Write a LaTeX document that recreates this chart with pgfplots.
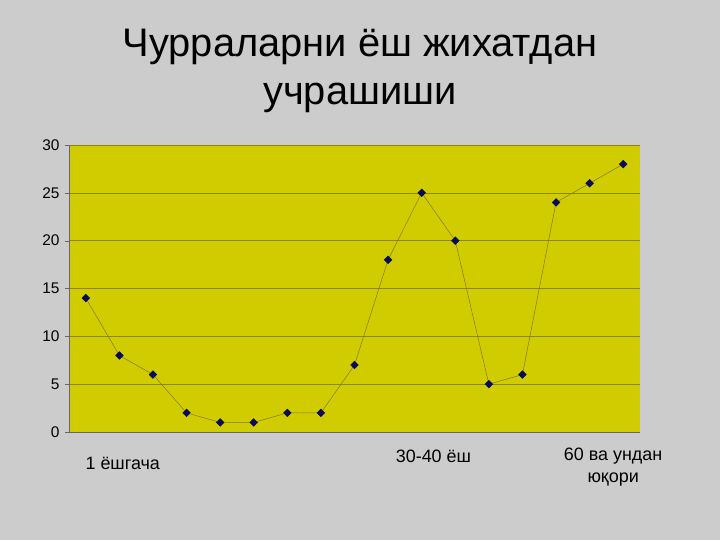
\documentclass[border=0pt]{standalone}
\usepackage{pgfplots}
\pgfplotsset{compat=1.18}
\usepackage{fontspec}
\setmainfont{Liberation Sans}
\definecolor{bg}{RGB}{204,204,204}
\definecolor{plotbg}{RGB}{208,204,0}
\definecolor{gridc}{RGB}{140,136,0}
\definecolor{linec}{RGB}{130,120,30}
\definecolor{markc}{RGB}{10,10,90}
\begin{document}
\begin{tikzpicture}[x=1bp,y=1bp]
\fill[bg] (0,0) rectangle (720,540);
\node[align=center,font=\fontsize{40}{48}\selectfont] at (360,469) {Чурраларни ёш жихатдан\\учрашиши};
\begin{axis}[
  at={(69bp,108bp)}, anchor=south west,
  scale only axis, width=571bp, height=287bp,
  xmin=0.5, xmax=17.5, ymin=0, ymax=30,
  axis x line=bottom, axis y line=left,
  axis line style={-, draw=gray!80!black},
  axis background/.style={fill=plotbg},
  xtick=\empty,
  ytick={0,5,...,30},
  tick align=outside, major tick length=4bp,
  y tick style={draw=gray!80!black},
  ymajorgrids, grid style={gridc, line width=0.6pt},
  tick label style={font=\fontsize{15.5}{18}\selectfont},
  /pgf/number format/assume math mode=true,
  yticklabel style={xshift=-2bp},
  clip=false,
]
\addplot[color=linec, line width=0.5pt, mark=square*, mark size=2.7bp,
  mark options={draw=markc, fill=markc, rotate=45}] coordinates {
(1,14) (2,8) (3,6) (4,2) (5,1) (6,1) (7,2) (8,2) (9,7) (10,18) (11,25) (12,20) (13,5) (14,6) (15,24) (16,26) (17,28)
};
\node[font=\fontsize{18}{22}\selectfont] at (axis cs:2.1,-3.24) {1 ёшгача};
\node[font=\fontsize{18}{22}\selectfont] at (axis cs:11.35,-2.5) {30-40 ёш};
\node[font=\fontsize{18}{22}\selectfont, align=center] at (axis cs:16.7,-3.66) {60 ва ундан\\юқори};
\end{axis}
\end{tikzpicture}
\end{document}
